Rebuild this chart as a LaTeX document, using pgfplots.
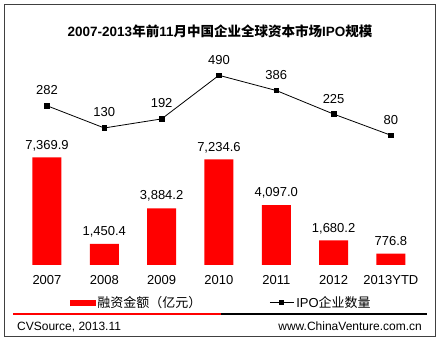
\documentclass[border=0pt]{standalone}
\usepackage{pgfplots}
\pgfplotsset{compat=1.18}
\usepackage{fontspec}
\setmainfont{Liberation Sans}
\newfontfamily\cjk{Noto Sans CJK SC}

\begin{document}
\begin{tikzpicture}
\path (0bp,0bp) rectangle (439bp,340bp);
\draw[black!75, line width=0.8bp] (4bp,4bp) rectangle (435bp,336bp);
\node[anchor=base, inner sep=0pt, font=\fontsize{13.5bp}{16bp}\selectfont\bfseries] at (220bp,303.5bp) {2007-2013{\cjk 年前}11{\cjk 月中国企业全球资本市场}IPO{\cjk 规模}};

\begin{axis}[at={(18.3bp,75bp)}, anchor=south west, scale only axis, width=401.3bp, height=206bp,
  xmin=-0.5, xmax=6.5, ymin=0, ymax=14100, clip=false,
  axis line style={draw=none}, major tick length=0, ytick=\empty,
  xtick={0,...,6}, xticklabels={2007,2008,2009,2010,2011,2012,2013YTD},
  xticklabel style={anchor=base, inner sep=0pt, yshift=-19.5bp, font=\fontsize{13bp}{15bp}\selectfont},
  ybar, bar width=29bp,
  nodes near coords={\pgfmathprintnumber[fixed,fixed zerofill,precision=1,1000 sep={,},assume math mode=true]{\pgfplotspointmeta}},
  every node near coord/.append style={anchor=base, inner sep=0pt, yshift=8.3bp, font=\fontsize{13bp}{15bp}\selectfont, black},
]
\addplot[fill=red, draw=none] coordinates {(0,7369.9) (1,1450.4) (2,3884.2) (3,7234.6) (4,4097.0) (5,1680.2) (6,776.8)};
\end{axis}

\begin{axis}[at={(18.3bp,75bp)}, anchor=south west, scale only axis, width=401.3bp, height=206bp,
  xmin=-0.5, xmax=6.5, ymin=-806.6, ymax=601.5, clip=false,
  axis line style={draw=none}, major tick length=0, ytick=\empty, xtick=\empty,
  legend columns=2,
  legend style={draw=none, fill=none, at={(0.506,-0.182)}, anchor=center,
    font=\fontsize{13bp}{15bp}\selectfont, inner sep=0pt,
    /tikz/every even column/.append style={column sep=66bp},
    nodes={inner sep=2bp}},
]
\addlegendimage{legend image code/.code={\fill[red] (0bp,-2.5bp) rectangle (25bp,2.5bp);}}
\addlegendentry{{\cjk 融资金额（亿元）}}
\addplot[black, line width=0.8bp, mark=square*, mark size=2.3bp,
  mark options={solid},
  nodes near coords={\pgfmathprintnumber[assume math mode=true]{\pgfplotspointmeta}},
  every node near coord/.append style={anchor=base, inner sep=0pt, yshift=11bp, font=\fontsize{13bp}{15bp}\selectfont, black},
  legend image code/.code={\draw[black, line width=0.8bp, mark=square*, mark size=2bp, mark repeat=2, mark phase=2] plot coordinates {(0bp,0bp) (12bp,0bp) (24bp,0bp)};}
] coordinates {(0,282) (1,130) (2,192) (3,490) (4,386) (5,225) (6,80)};
\addlegendentry{IPO{\cjk 企业数量}}
\end{axis}

\draw[red, line width=2bp] (13bp,26bp) -- (221bp,26bp);
\draw[black, line width=2bp] (221bp,26bp) -- (427bp,26bp);
\node[anchor=base west, inner sep=0pt, font=\fontsize{12bp}{14bp}\selectfont] at (17bp,10bp) {CVSource, 2013.11};
\node[anchor=base east, inner sep=0pt, font=\fontsize{12bp}{14bp}\selectfont] at (422bp,10bp) {www.ChinaVenture.com.cn};
\end{tikzpicture}
\end{document}
